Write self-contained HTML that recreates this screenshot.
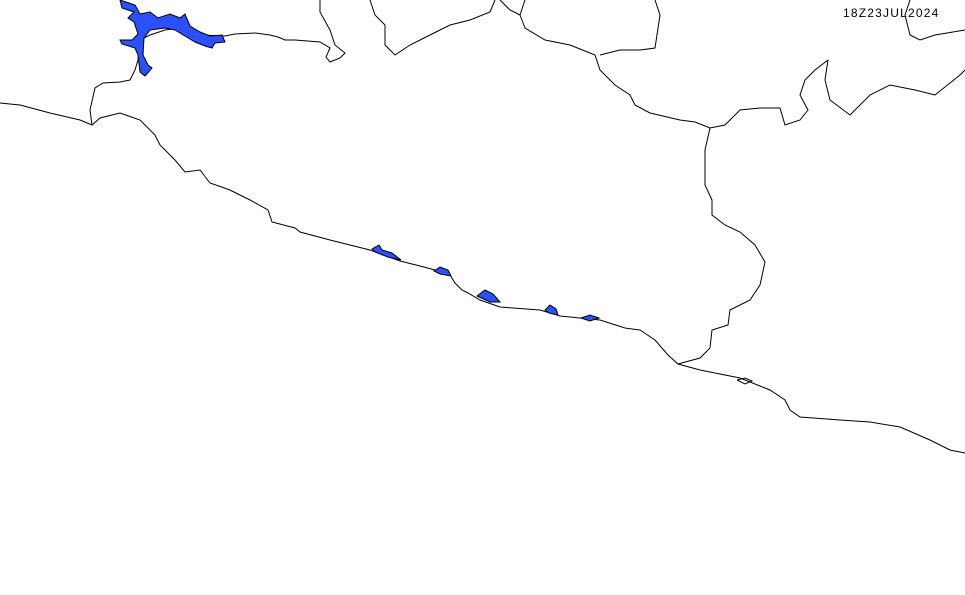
<!DOCTYPE html>
<html><head><meta charset="utf-8"><style>
html,body{margin:0;padding:0;background:#fff;width:965px;height:595px;overflow:hidden}
svg{display:block}
</style></head><body>
<svg width="965" height="595" viewBox="0 0 965 595" xmlns="http://www.w3.org/2000/svg">
<g fill="none" stroke="#000" stroke-width="1">
<polyline points="0,103 20,105 50,113 80,120 92,125 100,118 120,113 140,120 155,135 160,145 175,160 185,172 200,170 210,183 230,190 250,200 268,210 272,222 295,228 300,232 330,240 370,250 400,261 420,266 435,270 450,275 455,283 462,290 468,293 480,300 500,307 540,310 560,316 600,320 625,328 640,330 655,340 668,355 678,364 700,370 740,378 770,390 785,400 790,410 800,417 840,420 870,422 900,427 930,440 950,450 965,453"/>
<polyline points="92,125 90,110 95,88 103,83 120,82 130,80 135,70 138,60 140,40 150,35 165,30 180,28 200,35 225,36 235,34 255,33 270,35 278,37 285,40 295,40 320,42 330,48 326,57 330,62 340,58 345,53 335,45 330,30 320,12 320,0"/>
<polyline points="370,0 375,15 385,25 385,45 395,55 410,45 430,35 450,25 470,20 490,12 495,0"/>
<polyline points="500,0 510,10 520,15 525,0"/>
<polyline points="520,15 525,28 545,40 570,45 595,55 600,70 615,85 630,95 635,105 650,113 680,120 695,122 710,128 725,125 740,110 760,108 780,108 785,125 800,120 808,110 800,95 805,80 815,70 828,60"/>
<polyline points="655,0 660,15 655,48 640,50 620,50 600,55"/>
<polyline points="710,128 705,150 705,185 712,200 712,215 725,225 740,232 755,245 765,262 760,285 750,300 730,310 728,325 712,330 710,348 700,358 678,364"/>
<polyline points="828,60 825,80 830,100 850,115 870,95 890,85 915,90 935,95 960,75 965,70"/>
<polyline points="965,30 935,35 920,40 910,35 905,15 910,0"/>
<polyline points="737,380 745,378 752,381 745,384 737,380"/>
</g>
<g fill="#2a50ff" stroke="#000" stroke-width="1">
<path d="M120,0 L135,5 L140,14 L150,12 L158,18 L170,14 L180,18 L185,14 L190,26 L200,32 L210,36 L222,35 L225,42 L215,43 L212,48 L205,46 L195,42 L185,36 L175,30 L165,28 L150,30 L144,38 L143,55 L148,65 L152,68 L145,76 L140,72 L138,55 L135,48 L122,44 L120,40 L132,40 L138,34 L134,22 L128,18 L134,12 L122,8 Z"/>
<path d="M372,249 L379,245 L382,250 L392,253 L401,260 L388,257 L375,252 Z"/>
<path d="M434,271 L440,267 L448,270 L451,276 L440,274 Z"/>
<path d="M477,296 L485,290 L493,294 L500,302 L490,302 Z"/>
<path d="M545,310 L550,305 L556,309 L558,315 L549,313 Z"/>
<path d="M581,318 L590,315 L599,318 L590,321 Z"/>
</g>
<text x="843" y="17" font-family="Liberation Sans, sans-serif" font-size="12" letter-spacing="1.2" fill="#000">18Z23JUL2024</text>
</svg>
</body></html>
